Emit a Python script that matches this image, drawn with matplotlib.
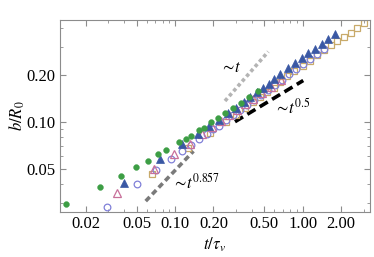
import matplotlib
matplotlib.use("Agg")
import matplotlib.pyplot as plt
from matplotlib.ticker import FixedLocator, FixedFormatter, NullFormatter

plt.rcParams['font.family'] = ['Liberation Serif', 'DejaVu Serif']
plt.rcParams['mathtext.fontset'] = 'stix'

# ---- data ----
green_x = [0.0140, 0.0259, 0.0378, 0.0495, 0.0618, 0.0732, 0.0850, 0.108, 0.121, 0.133,
           0.155, 0.169, 0.191, 0.217, 0.246, 0.285, 0.329, 0.380, 0.447]
green_y = [0.0295, 0.0382, 0.0450, 0.0510, 0.0562, 0.0617, 0.0661, 0.0741, 0.0774, 0.0809,
           0.0884, 0.0918, 0.0993, 0.1062, 0.1137, 0.1228, 0.1327, 0.1433, 0.1564]

btri_x = [0.0399, 0.0767, 0.114, 0.151, 0.185, 0.221, 0.260, 0.300, 0.344, 0.390, 0.439,
          0.493, 0.545, 0.601, 0.670, 0.767, 0.871, 0.987, 1.110, 1.249, 1.409, 1.587, 1.790]
btri_y = [0.0406, 0.0573, 0.0716, 0.0836, 0.0945, 0.1033, 0.1137, 0.1234, 0.1339, 0.1441,
          0.1541, 0.1647, 0.1760, 0.1881, 0.2026, 0.2198, 0.2384, 0.2567, 0.2744, 0.2911,
          0.3144, 0.3385, 0.3646]

ptri_x = [0.0353, 0.0679, 0.0986, 0.132, 0.162, 0.195, 0.229, 0.265, 0.306, 0.353, 0.408,
          0.480, 0.565, 0.673]
ptri_y = [0.0350, 0.0494, 0.0617, 0.0722, 0.0840, 0.0925, 0.1010, 0.1104, 0.1198, 0.1299,
          0.1409, 0.1529, 0.1671, 0.1854]

circ_x = [0.0293, 0.0507, 0.0710, 0.0925, 0.1145, 0.1334, 0.155, 0.178, 0.198, 0.221, 0.251,
          0.285, 0.323, 0.366, 0.416, 0.471, 0.535, 0.607, 0.689, 0.781, 0.886, 1.005, 1.141,
          1.294, 1.469]
circ_y = [0.0282, 0.0398, 0.0493, 0.0574, 0.0645, 0.0709, 0.0774, 0.0840, 0.0898, 0.0945,
          0.1025, 0.1104, 0.1189, 0.1280, 0.1379, 0.1484, 0.1599, 0.1722, 0.1867, 0.2026,
          0.2182, 0.2349, 0.2529, 0.2712, 0.2911]

sq_x = [0.0655, 0.127, 0.188, 0.2495, 0.300, 0.353, 0.408, 0.463, 0.525, 0.596, 0.670, 0.753,
        0.855, 1.000, 1.141, 1.294, 1.469, 1.657, 1.856, 2.106, 2.368, 2.662, 3.020]
sq_y = [0.0461, 0.0675, 0.0850, 0.1000, 0.1112, 0.1225, 0.1329, 0.1431, 0.1541, 0.1659,
        0.1813, 0.1966, 0.2127, 0.2297, 0.2455, 0.2684, 0.2890, 0.3097, 0.3301, 0.3502,
        0.3716, 0.3984, 0.4290]

# guide lines (endpoints)
lin1_x = [0.2463, 0.5375]; lin1_y = [0.1359, 0.282]     # ~t
lin2_x = [0.0590, 0.1396]; lin2_y = [0.0309, 0.0647]    # ~t^0.857
lin3_x = [0.295, 1.01];    lin3_y = [0.100, 0.184]      # ~t^0.5

xticks = [0.02, 0.05, 0.10, 0.20, 0.50, 1.00, 2.00]
xticklabels = ["0.02", "0.05", "0.10", "0.20", "0.50", "1.00", "2.00"]
yticks = [0.05, 0.10, 0.20]
yticklabels = ["0.05", "0.10", "0.20"]

fig = plt.figure(figsize=(3.74, 2.57), dpi=100)
ax = fig.add_axes([0.1604, 0.1763, 0.8289, 0.7459])
ax.set_xscale('log')
ax.set_yscale('log')
ax.set_xlim(0.01258, 3.365)
ax.set_ylim(0.02642, 0.4504)

ax.plot(lin1_x, lin1_y, color='#b4b4b4', lw=2.6, ls=(0, (1.0, 0.8)), solid_capstyle='butt', zorder=1)
ax.plot(lin2_x, lin2_y, color='#7a7a7a', lw=2.6, ls=(0, (1.6, 1.0)), zorder=1)
ax.plot(lin3_x, lin3_y, color='black', lw=2.6, ls=(0, (2.6, 1.4)), zorder=1)

ax.plot(sq_x, sq_y, ls='none', marker='s', ms=4.6, mfc='none', mec='#c8aa6a', mew=0.9, zorder=2)
ax.plot(circ_x, circ_y, ls='none', marker='o', ms=4.8, mfc='none', mec='#8080d8', mew=0.9, zorder=3)
ax.plot(ptri_x, ptri_y, ls='none', marker='^', ms=5.5, mfc='none', mec='#c8709a', mew=0.9, zorder=3)
ax.plot(btri_x, btri_y, ls='none', marker='^', ms=6.0, mfc='#3a58a4', mec='#3a58a4', mew=0.5, zorder=4)
ax.plot(green_x, green_y, ls='none', marker='o', ms=4.2, mfc='#3d9e45', mec='#3d9e45', mew=0.3, zorder=5)

ax.text(0.2700, 0.2214, r'$\sim\!t$', fontsize=12, ha='center', va='center')
ax.text(0.1461, 0.0404, r'$\sim\!t^{0.857}$', fontsize=12, ha='center', va='center')
ax.text(0.8245, 0.1225, r'$\sim\!t^{0.5}$', fontsize=12, ha='center', va='center')

ax.set_xlabel(r'$t/\tau_v$', fontsize=12, labelpad=3)
ax.set_ylabel(r'$b/R_0$', fontsize=12, labelpad=0)

for sp in ax.spines.values():
    sp.set_color('#8c8c8c')
    sp.set_linewidth(0.8)

ax.xaxis.set_major_locator(FixedLocator(xticks))
ax.xaxis.set_major_formatter(FixedFormatter(xticklabels))
xminor = [0.03, 0.04, 0.06, 0.07, 0.08, 0.09, 0.3, 0.4, 0.6, 0.7, 0.8, 0.9, 3.0]
ax.xaxis.set_minor_locator(FixedLocator(xminor))
ax.xaxis.set_minor_formatter(NullFormatter())
ax.yaxis.set_major_locator(FixedLocator(yticks))
ax.yaxis.set_major_formatter(FixedFormatter(yticklabels))
yminor = [0.03, 0.04, 0.06, 0.07, 0.08, 0.09, 0.3, 0.4]
ax.yaxis.set_minor_locator(FixedLocator(yminor))
ax.yaxis.set_minor_formatter(NullFormatter())

ax.tick_params(which='both', direction='in', top=True, right=True, color='#8c8c8c',
               labelsize=12, pad=3)
ax.tick_params(which='major', length=4, width=0.8)
ax.tick_params(which='minor', length=2, width=0.6)

fig.savefig('out.png', dpi=100)
